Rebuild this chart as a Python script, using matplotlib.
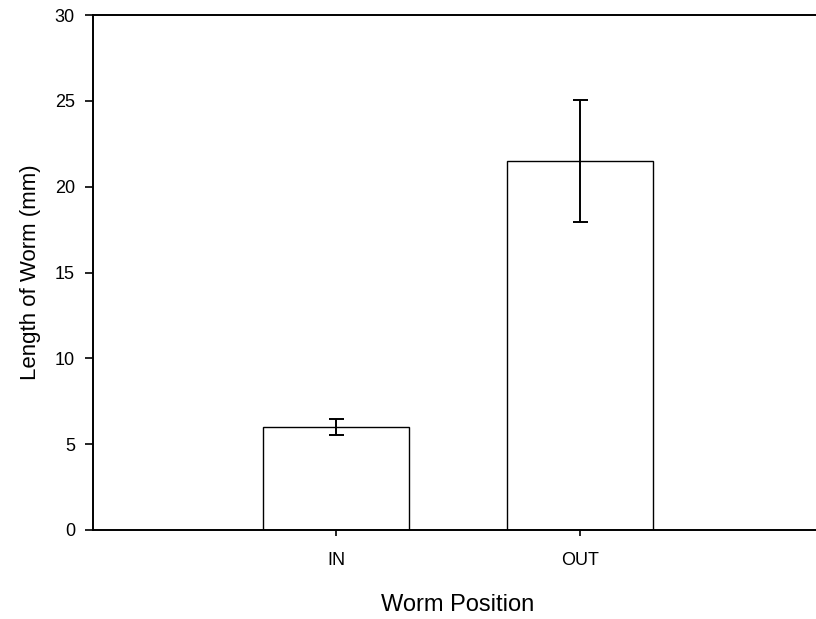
import numpy as np
import matplotlib
matplotlib.use('Agg')
from matplotlib import pyplot as plt

plt.rcParams['font.family'] = ['Liberation Sans', 'DejaVu Sans']

# data
positions = ['IN', 'OUT']
lengths = [6.0, 21.5]
errors = [0.47, 3.55]

fig = plt.figure(figsize=(8.16, 6.19), dpi=100)
ax = fig.add_axes([93 / 816, 1 - 530 / 619, 730 / 816, 515 / 619])

x = np.arange(1, len(positions) + 1)
ax.bar(x, lengths, width=0.6, color='white', edgecolor='black', linewidth=1.0, zorder=2)
ax.errorbar(x, lengths, yerr=errors, fmt='none', ecolor='black', elinewidth=1.4,
            capsize=5.4, capthick=1.4, zorder=3)

ax.set_xlim(0, 3)
ax.set_ylim(0, 30)
ax.set_yticks([0, 5, 10, 15, 20, 25, 30])
ax.set_xticks(x)
ax.set_xticklabels(positions)

ax.spines['right'].set_visible(False)
for s in ['left', 'bottom', 'top']:
    ax.spines[s].set_linewidth(1.4)

ax.tick_params(axis='y', direction='out', length=6, width=1.2, pad=7, labelsize=13)
ax.tick_params(axis='x', direction='out', length=4, width=1.2, pad=12, labelsize=13)

ax.set_xlabel('Worm Position', fontsize=17, labelpad=18)
ax.set_ylabel('Length of Worm (mm)', fontsize=16, labelpad=10)

fig.savefig('out.png', dpi=100)
